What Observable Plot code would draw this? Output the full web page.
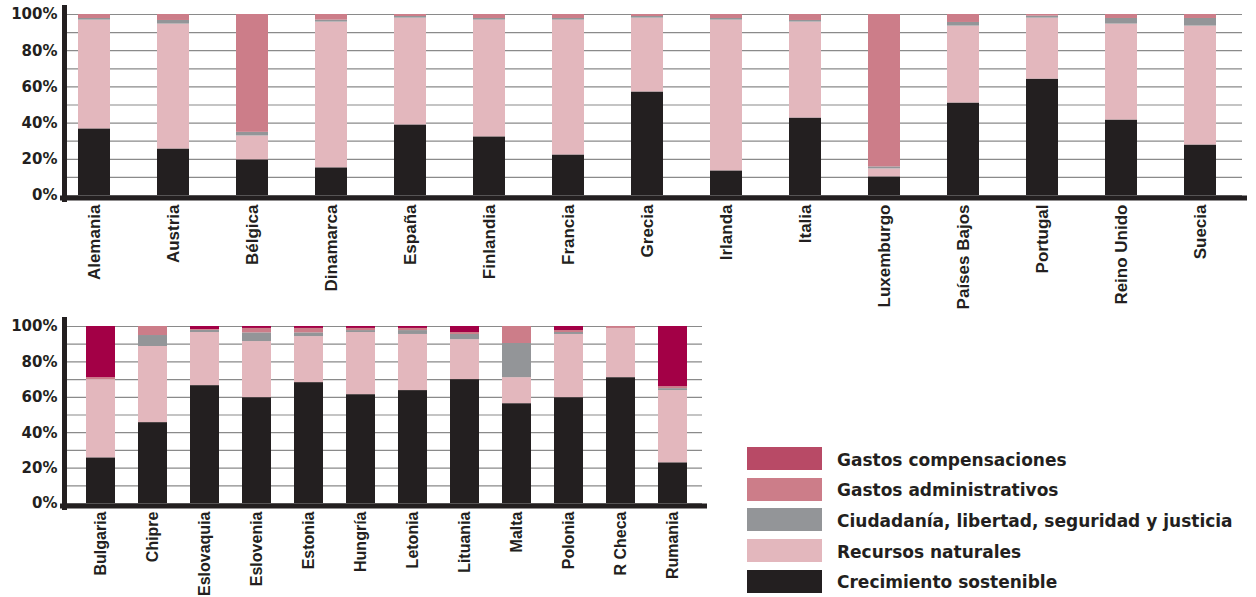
<!DOCTYPE html>
<html><head><meta charset="utf-8">
<script src="https://cdn.jsdelivr.net/npm/d3@7"></script>
<script src="https://cdn.jsdelivr.net/npm/@observablehq/plot@0.6"></script>
<style>
body{margin:0;background:#fff;width:1256px;height:597px;overflow:hidden;position:relative;font-family:"DejaVu Sans",sans-serif;}
#top{position:absolute;left:0;top:0}
#bottom{position:absolute;left:0;top:315px}
#legend{position:absolute;left:747px;top:447px}
.row{display:flex;align-items:center;height:23px;margin-bottom:7.7px}
.sw{width:75px;height:23px;margin-right:15px;flex:none}
.lab{font-weight:bold;font-size:17px;color:#231f20;white-space:nowrap;position:relative;top:1px}
</style></head>
<body>
<div id="top"></div>
<div id="bottom"></div>
<div id="legend"></div>
<script>
const series = ["Crecimiento sostenible","Recursos naturales","Ciudadanía, libertad, seguridad y justicia","Gastos administrativos","Gastos compensaciones"];
const barColors = ["#231f20","#e3b7bd","#939598","#cc7d89","#a30046"];
const legendColors = ["#231f20","#e3b7bd","#939598","#cc7d89","#b84a66"];

const paisesA = ["Alemania","Austria","Bélgica","Dinamarca","España","Finlandia","Francia","Grecia","Irlanda","Italia","Luxemburgo","Países Bajos","Portugal","Reino Unido","Suecia"];
const crecA  = [36.8,25.7,19.7,15.3,39.0,32.4,22.4,57.2,13.6,42.8,10.3,51.1,64.3,41.7,27.9];
const recA   = [60.1,69.0,13.2,80.5,59.0,64.5,74.5,40.8,83.3,53.0, 4.4,42.5,33.7,53.0,65.7];
const ciudA  = [ 0.9, 2.0, 2.0, 1.1, 0.9, 0.9, 0.9, 0.9, 0.9, 0.9, 1.1, 2.0, 1.1, 3.1, 4.2];
const adminA = [ 2.2, 3.3,65.1, 3.1, 1.1, 2.2, 2.2, 1.1, 2.2, 3.3,84.2, 4.4, 0.9, 2.2, 2.2];
const compA  = [ 0, 0, 0, 0, 0, 0, 0, 0, 0, 0, 0, 0, 0, 0, 0];

const paisesB = ["Bulgaria","Chipre","Eslovaquia","Eslovenia","Estonia","Hungría","Letonia","Lituania","Malta","Polonia","R Checa","Rumania"];
const crecB  = [25.8,45.7,66.6,59.8,68.3,61.5,63.8,70.0,56.4,59.8,71.1,23.0];
const recB   = [44.2,43.0,30.0,31.7,26.0,35.1,31.7,22.6,14.7,35.7,27.8,40.8];
const ciudB  = [ 0.0, 6.2, 1.2, 4.9, 2.1, 1.1, 2.2, 2.9,19.3, 1.1, 0.0, 1.1];
const adminB = [ 1.1, 5.1, 0.5, 2.5, 2.5, 1.2, 1.2, 1.1, 9.6, 1.1, 1.1, 1.1];
const compB  = [28.9, 0.0, 1.7, 1.1, 1.1, 1.1, 1.1, 3.4, 0.0, 2.3, 0.0,34.0];

function rows(paises, cols){
  const out = [];
  paises.forEach((p,i)=>{ series.forEach((s,j)=>{ out.push({pais:p, serie:s, valor:cols[j][i]}); }); });
  return out;
}
const dataA = rows(paisesA,[crecA,recA,ciudA,adminA,compA]);
const dataB = rows(paisesB,[crecB,recB,ciudB,adminB,compB]);

function chart(data, paises, opts){
  return Plot.plot({
    width: opts.width, height: opts.height,
    marginLeft: 66, marginRight: opts.marginRight, marginTop: opts.marginTop, marginBottom: opts.marginBottom,
    style: {fontFamily: "DejaVu Sans", color: "#231f20", background: "transparent"},
    x: {domain: paises, paddingInner: opts.pi, paddingOuter: opts.po, align: opts.align},
    y: {domain: [0,100]},
    color: {domain: series, range: barColors},
    marks: [
      Plot.gridY({interval: 10, stroke: "#8a8a8a", strokeOpacity: 1, strokeWidth: 1.2}),
      Plot.barY(data, {x: "pais", y: "valor", fill: "serie", order: series}),
      Plot.axisY({interval: 20, tickFormat: d => d + "%", tickSize: 0, tickPadding: 9, fontSize: 15, fontWeight: "bold", label: null}),
      Plot.axisX({tickSize: 0, tickRotate: -90, tickPadding: opts.tp, fontSize: opts.fs, fontWeight: "bold", fontFamily: "Liberation Sans", label: null}),
      Plot.frame({anchor: "left", stroke: "#231f20", strokeWidth: 5, dx: -2, insetTop: -7, insetBottom: -4}),
      Plot.frame({anchor: "bottom", stroke: "#231f20", strokeWidth: 5, dy: 2.5, insetLeft: -4, insetRight: -2})
    ]
  });
}

document.getElementById("top").append(chart(dataA, paisesA, {width:1256, height:315, marginRight:14, marginTop:14, marginBottom:120, pi:0.596, po:0.221, align:0.314, tp:9, fs:17}));
document.getElementById("bottom").append(chart(dataB, paisesB, {width:720, height:282, marginRight:18, marginTop:11, marginBottom:94, pi:0.449, po:0.266, align:0.57, tp:8, fs:16}));

const leg = document.getElementById("legend");
for (let j = series.length - 1; j >= 0; j--) {
  const r = document.createElement("div"); r.className = "row";
  const sw = document.createElement("div"); sw.className = "sw"; sw.style.background = legendColors[j];
  const lb = document.createElement("div"); lb.className = "lab"; lb.textContent = series[j];
  r.append(sw, lb); leg.append(r);
}
</script>
</body></html>
